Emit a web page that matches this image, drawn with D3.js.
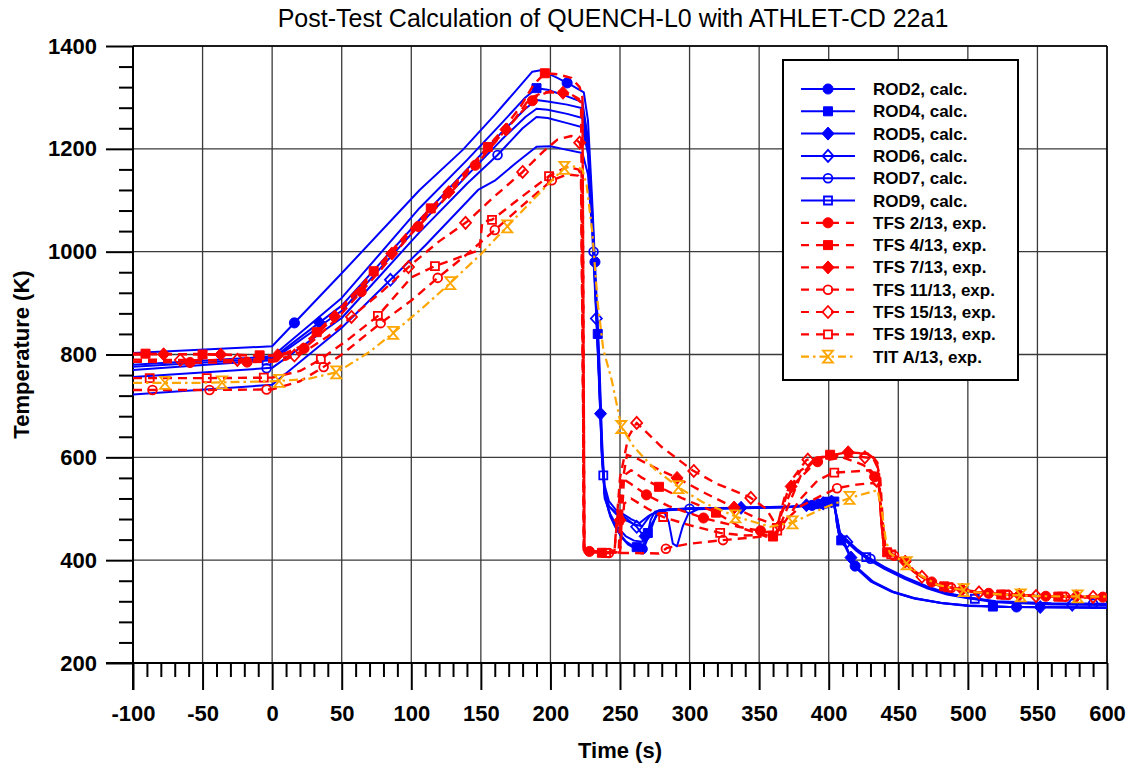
<!DOCTYPE html>
<html><head><meta charset="utf-8">
<script src="https://cdn.jsdelivr.net/npm/d3@7"></script>
<style>
body{margin:0;background:#fff}
svg{display:block}
text{font-family:"Liberation Sans",Arial,Helvetica,sans-serif}
</style>
</head><body>
<svg id="chart" width="1134" height="771"></svg>
<script>
// ---------- data ----------
const chartTitle = "Post-Test Calculation of QUENCH-L0 with ATHLET-CD 22a1";
const xLabel = "Time (s)";
const yLabel = "Temperature (K)";
const xTicks = [-100,-50,0,50,100,150,200,250,300,350,400,450,500,550,600];
const yTicks = [200,400,600,800,1000,1200,1400];
const seriesNames = ["ROD2, calc.","ROD4, calc.","ROD5, calc.","ROD6, calc.","ROD7, calc.","ROD9, calc.",
  "TFS 2/13, exp.","TFS 4/13, exp.","TFS 7/13, exp.","TFS 11/13, exp.","TFS 15/13, exp.","TFS 19/13, exp.","TIT A/13, exp."];

const rod2 = [[-100,803],[0,816],[50,958],[106,1120],[137,1198],[160,1266],[178,1322],[187,1350],[193,1353],[205,1338],[215,1324],[224,1310],[227,1255],[230,1100],[233,920],[235,800],[237,640],[239,530],[242,495],[246,468],[251,445],[256,430],[262,421],[267,422],[271,450],[276,488],[282,498],[300,501],[340,502],[370,503],[390,507],[400,512],[404,514],[406,470],[408,440],[412,426],[416,402],[420,384],[430,359],[445,339],[460,327],[480,317],[500,312],[530,309],[600,308]];
const rod4 = [[-100,780],[0,796],[50,910],[106,1085],[140,1178],[165,1250],[182,1300],[190,1318],[198,1315],[212,1302],[223,1291],[227,1220],[230,1080],[233,900],[235,780],[237,620],[239,525],[243,485],[248,458],[254,437],[260,426],[266,424],[271,460],[277,490],[284,498],[300,500],[340,501],[370,503],[392,508],[404,514],[406,468],[408,442],[412,428],[416,404],[422,380],[432,357],[447,337],[462,325],[482,316],[500,311],[530,309],[600,307]];
const rod5 = [[-100,776],[0,792],[50,895],[106,1062],[140,1160],[165,1232],[182,1278],[190,1295],[198,1292],[212,1286],[223,1279],[227,1210],[230,1070],[233,890],[235,760],[237,610],[239,520],[243,490],[248,465],[254,447],[260,438],[266,436],[271,462],[277,490],[285,499],[300,500],[340,502],[370,503],[392,509],[404,515],[406,470],[408,444],[412,430],[416,405],[422,382],[432,358],[447,338],[462,326],[482,316],[500,312],[530,309],[600,308]];
const rod6 = [[-100,722],[0,741],[50,852],[110,1012],[148,1120],[160,1138],[175,1172],[190,1204],[200,1205],[212,1198],[223,1192],[227,1150],[230,1040],[233,870],[235,740],[237,600],[239,530],[242,505],[246,495],[251,488],[256,478],[262,465],[266,450],[269,441],[272,478],[275,494],[281,498],[285,475],[288,432],[291,427],[295,465],[299,490],[306,499],[340,502],[375,504],[395,510],[403,515],[406,480],[408,450],[412,438],[420,418],[428,402],[440,383],[455,363],[470,346],[485,333],[500,326],[520,318],[560,314],[600,313]];
const rod7 = [[-100,756],[0,774],[50,871],[106,1038],[140,1132],[162,1188],[180,1240],[190,1262],[198,1260],[212,1250],[223,1242],[227,1190],[230,1060],[233,880],[235,750],[237,610],[239,545],[242,515],[247,498],[252,490],[258,480],[264,472],[270,485],[278,497],[300,500],[340,502],[375,505],[395,511],[403,517],[406,484],[408,454],[412,442],[420,422],[428,406],[440,387],[455,367],[470,350],[485,336],[500,328],[520,320],[560,316],[600,315]];
const rod9 = [[-100,770],[0,789],[50,885],[106,1052],[140,1148],[165,1218],[182,1262],[190,1278],[198,1276],[212,1268],[223,1260],[227,1200],[230,1060],[233,880],[235,750],[237,600],[239,530],[242,505],[247,490],[254,478],[260,470],[266,466],[272,488],[280,496],[300,500],[340,502],[375,504],[395,510],[403,516],[406,482],[408,452],[412,440],[420,420],[428,404],[440,385],[455,365],[470,348],[485,335],[500,327],[520,319],[560,315],[600,314]];

const tfs2 = [[-100,786],[-50,784],[0,786],[10,790],[20,805],[30,828],[40,853],[50,880],[75,955],[100,1035],[125,1105],[150,1180],[165,1228],[178,1268],[190,1302],[200,1312],[212,1310],[220,1298],[223,1290],[224,700],[224.5,418],[235,415],[246,416],[248,480],[251,560],[258,548],[269,527],[285,505],[310,482],[335,465],[355,455],[361,456],[366,490],[375,548],[391,591],[410,600],[425,585],[433,562],[436,545],[438,480],[440,418],[446,410],[453,400],[461,378],[468,366],[478,352],[490,345],[505,338],[525,333],[550,330],[600,328]];
const tfs4 = [[-100,802],[-50,800],[0,798],[10,803],[20,815],[30,838],[40,865],[50,893],[75,968],[100,1045],[125,1115],[150,1188],[165,1235],[178,1280],[188,1325],[196,1347],[205,1345],[215,1338],[221,1320],[223,1300],[224,700],[224.5,416],[240,414],[250,416],[253,565],[258,575],[266,560],[277,544],[295,520],[318,494],[338,462],[355,446],[362,446],[367,480],[380,565],[390,595],[401,605],[415,608],[430,607],[435,590],[438,470],[440,418],[446,410],[453,400],[461,378],[468,366],[478,352],[490,345],[505,338],[525,333],[550,330],[600,327]];
const tfs7 = [[-100,800],[-50,801],[0,797],[10,801],[20,812],[30,834],[40,860],[50,888],[75,962],[100,1040],[125,1110],[150,1183],[165,1228],[175,1260],[185,1298],[195,1310],[209,1309],[218,1300],[222,1290],[223.5,700],[224,420],[240,414],[249,415],[251,540],[255,605],[262,598],[275,580],[291,560],[310,532],[330,505],[348,482],[360,470],[364,470],[370,530],[380,575],[395,600],[413,610],[428,607],[434,595],[437,560],[439,470],[441,418],[447,410],[454,400],[462,378],[469,366],[479,352],[491,345],[505,339],[525,334],[550,331],[600,329]];
const tfs11 = [[-100,731],[-50,731],[0,732],[20,748],[36,774],[50,800],[78,861],[100,905],[119,949],[140,995],[160,1042],[180,1090],[201,1139],[212,1150],[220,1148],[222,1140],[223.5,700],[224,420],[240,414],[260,414],[278,413],[284,424],[300,432],[324,439],[345,444],[360,448],[366,470],[380,505],[395,526],[406,540],[420,547],[432,550],[436,540],[438,470],[440,418],[446,410],[453,400],[461,378],[468,366],[478,352],[490,345],[505,338],[525,333],[550,330],[600,327]];
const tfs15 = [[-100,790],[-50,789],[0,790],[20,800],[40,835],[57,873],[80,925],[100,975],[120,1020],[140,1058],[160,1108],[180,1155],[195,1195],[205,1218],[215,1225],[221,1212],[223,1190],[223.8,700],[224.3,420],[240,414],[246,418],[250,560],[256,640],[262,667],[280,620],[302,575],[320,548],[343,523],[355,500],[360,478],[364,476],[368,520],[375,562],[384,595],[400,603],[423,601],[432,598],[436,575],[438,480],[440,418],[446,410],[453,400],[461,378],[468,366],[478,352],[490,345],[505,338],[525,333],[550,330],[600,328]];
const tfs19 = [[-100,754],[-50,754],[0,755],[20,768],[34,789],[55,830],[76,875],[100,950],[117,972],[149,1003],[151,1058],[158,1062],[180,1108],[200,1149],[212,1165],[220,1160],[222,1150],[223.5,700],[224,420],[240,414],[250,415],[253,510],[258,520],[270,500],[281,484],[300,468],[322,453],[340,448],[360,450],[366,465],[380,520],[392,555],[403,570],[420,573],[430,575],[436,560],[438,470],[440,418],[446,410],[453,400],[461,378],[468,366],[478,352],[490,345],[505,338],[525,333],[550,330],[600,327]];
const titA = [[-100,745],[-50,745],[0,748],[25,752],[47,766],[70,805],[87,842],[110,895],[128,939],[150,995],[170,1052],[190,1108],[210,1163],[218,1166],[223,1160],[226,1130],[230,1040],[234,900],[238,810],[244,751],[251,659],[260,620],[275,577],[293,540],[310,512],[334,484],[358,465],[375,474],[395,500],[415,521],[435,536],[438,500],[441,440],[444,413],[456,394],[465,372],[478,352],[490,345],[505,338],[525,333],[550,330],[600,329]];

// marker times (calc) and marker start times (exp, every expMarkStep s)
const rod2Marks = [16,212,232,266,388,398,419,535];
const rod4Marks = [190,234,262,270,394,404,409,518];
const rod5Marks = [34,236,268,337,384,402,416,552];
const rod6Marks = [85,233,262,396,413,575];
const rod7Marks = [-4,162,231,300,392,430,590];
const rod9Marks = [-4,238,400,427,505];
const expMarkStart = [-59,-91,-78,-86,-66,-88,-77];
const expMarkStep = 41;

// ---------- build ----------
const BLUE="#0000ff", RED="#ff0000", ORANGE="#ffa500";
function expTimes(start){const a=[];for(let t=start;t<=600;t+=expMarkStep)a.push(t);return a;}
const series = [
  {data:rod2,color:BLUE,kind:"calc",marker:"circleF",marks:rod2Marks},
  {data:rod4,color:BLUE,kind:"calc",marker:"squareF",marks:rod4Marks},
  {data:rod5,color:BLUE,kind:"calc",marker:"diamondF",marks:rod5Marks},
  {data:rod6,color:BLUE,kind:"calc",marker:"diamondO",marks:rod6Marks},
  {data:rod7,color:BLUE,kind:"calc",marker:"circleO",marks:rod7Marks},
  {data:rod9,color:BLUE,kind:"calc",marker:"squareO",marks:rod9Marks},
  {data:tfs2,color:RED,kind:"exp",marker:"circleF",marks:expTimes(expMarkStart[0])},
  {data:tfs4,color:RED,kind:"exp",marker:"squareF",marks:expTimes(expMarkStart[1])},
  {data:tfs7,color:RED,kind:"exp",marker:"diamondF",marks:expTimes(expMarkStart[2])},
  {data:tfs11,color:RED,kind:"exp",marker:"circleO",marks:expTimes(expMarkStart[3])},
  {data:tfs15,color:RED,kind:"exp",marker:"diamondO",marks:expTimes(expMarkStart[4])},
  {data:tfs19,color:RED,kind:"exp",marker:"squareO",marks:expTimes(expMarkStart[5])},
  {data:titA,color:ORANGE,kind:"tit",marker:"hourglass",marks:expTimes(expMarkStart[6])}
].map((s,i)=>Object.assign(s,{name:seriesNames[i]}));

const svg = d3.select("#chart");
const L=133,R=1107,T=46,B=663;
const x = d3.scaleLinear().domain([-100,600]).range([L,R]);
const y = d3.scaleLinear().domain([200,1400]).range([B,T]);

svg.append("defs").append("clipPath").attr("id","clip")
  .append("rect").attr("x",L).attr("y",T).attr("width",R-L).attr("height",B-T);

// grid
const grid = svg.append("g");
grid.selectAll("line.vx").data(xTicks.filter(v=>v>-100)).join("line")
  .attr("x1",d=>x(d)).attr("x2",d=>x(d)).attr("y1",T).attr("y2",B)
  .attr("stroke","#3a3a3a").attr("stroke-width",1.3);
grid.selectAll("line.hy").data(yTicks.filter(v=>v>200)).join("line")
  .attr("x1",L).attr("x2",R).attr("y1",d=>y(d)).attr("y2",d=>y(d))
  .attr("stroke","#3a3a3a").attr("stroke-width",1.3);

// axes
const minorX = d3.range(-100,601,10).filter(v=>v%50!==0);
const minorY = d3.range(200,1401,40).filter(v=>v%200!==0);
function styleAxis(g){g.select(".domain").remove();g.selectAll("line").attr("stroke","#000").attr("stroke-width",2);}
svg.append("g").attr("transform",`translate(0,${B})`)
  .call(d3.axisBottom(x).tickValues(minorX).tickSize(14).tickFormat("")).call(styleAxis);
const gx = svg.append("g").attr("transform",`translate(0,${B})`)
  .call(d3.axisBottom(x).tickValues(xTicks).tickSize(27).tickPadding(15).tickFormat(d3.format("d"))).call(styleAxis);
svg.append("g").attr("transform",`translate(${L},0)`)
  .call(d3.axisLeft(y).tickValues(minorY).tickSize(14).tickFormat("")).call(styleAxis);
const gy = svg.append("g").attr("transform",`translate(${L},0)`)
  .call(d3.axisLeft(y).tickValues(yTicks).tickSize(27).tickPadding(9).tickFormat(d3.format("d"))).call(styleAxis);
[gx,gy].forEach(g=>g.selectAll("text").attr("fill","#000").attr("font-size",22).attr("font-weight","bold")
  .attr("font-family",'"Liberation Sans",Arial,sans-serif'));
gx.selectAll("text").text(d=>d<0?"-"+Math.abs(d):d);
// axis lines & frame
svg.append("line").attr("x1",L).attr("x2",L).attr("y1",T).attr("y2",B+27).attr("stroke","#000").attr("stroke-width",2);
svg.append("line").attr("x1",L-27).attr("x2",R).attr("y1",B).attr("y2",B).attr("stroke","#000").attr("stroke-width",2);
svg.append("line").attr("x1",L).attr("x2",R).attr("y1",T).attr("y2",T).attr("stroke","#000").attr("stroke-width",1.5);
svg.append("line").attr("x1",R).attr("x2",R).attr("y1",T).attr("y2",B).attr("stroke","#000").attr("stroke-width",1.5);

// titles
svg.append("text").attr("x",613).attr("y",27).attr("text-anchor","middle").attr("font-size",25).text(chartTitle);
svg.append("text").attr("x",(L+R)/2).attr("y",758).attr("text-anchor","middle").attr("font-size",22).attr("font-weight","bold").text(xLabel);
svg.append("text").attr("transform",`translate(29,${(T+B)/2}) rotate(-90)`).attr("text-anchor","middle").attr("font-size",22).attr("font-weight","bold").text(yLabel);

// markers
function markerPath(type){
  switch(type){
    case "circleF": return d3.symbol(d3.symbolCircle, 80)();
    case "circleO": return d3.symbol(d3.symbolCircle, 60)();
    case "squareF": return "M-4.5,-4.5H4.5V4.5H-4.5Z";
    case "squareO": return "M-4,-4H4V4H-4Z";
    case "diamondF": return "M0,-6.5L6,0L0,6.5L-6,0Z";
    case "diamondO": return "M0,-6L5.5,0L0,6L-5.5,0Z";
    case "hourglass": return "M-5,-6H5L-5,6H5Z";
  }
}
function markerStyle(sel,type,color){
  const filled = type.endsWith("F");
  sel.attr("d",markerPath(type))
    .attr("fill",filled?color:"none")
    .attr("stroke",color).attr("stroke-width",filled?1:1.8);
}
function interp(data,t){
  if(t<=data[0][0]) return data[0][1];
  for(let i=0;i<data.length-1;i++){
    const a=data[i],b=data[i+1];
    if(t>=a[0]&&t<=b[0]){const f=(t-a[0])/(b[0]-a[0]||1);return a[1]+f*(b[1]-a[1]);}
  }
  return data[data.length-1][1];
}
const dashOf = s => s.kind==="calc"?null:(s.kind==="exp"?"9,6":"9,4,2.5,4");
const widthOf = s => s.kind==="calc"?2:(s.kind==="exp"?2.4:2.2);

const line = d3.line().x(d=>x(d[0])).y(d=>y(d[1]));
const plot = svg.append("g").attr("clip-path","url(#clip)");
series.forEach(s=>{
  const g=plot.append("g");
  g.append("path").datum(s.data).attr("d",line).attr("fill","none")
    .attr("stroke",s.color).attr("stroke-width",widthOf(s))
    .attr("stroke-dasharray",dashOf(s)).attr("stroke-linejoin","round");
  g.selectAll("path.m").data(s.marks.filter(t=>t>=-100&&t<=600)).join("path").attr("class","m")
    .attr("transform",t=>`translate(${x(t)},${y(interp(s.data,t))})`)
    .call(sel=>markerStyle(sel,s.marker,s.color));
});

// legend
const lg = svg.append("g");
lg.append("rect").attr("x",783).attr("y",60).attr("width",235).attr("height",320)
  .attr("fill","#fff").attr("stroke","#000").attr("stroke-width",2);
series.forEach((s,i)=>{
  const cy = 89 + i*22.3;
  lg.append("line").attr("x1",801).attr("x2",855).attr("y1",cy).attr("y2",cy)
    .attr("stroke",s.color).attr("stroke-width",s.kind==="calc"?2:2.2)
    .attr("stroke-dasharray",s.kind==="calc"?null:(s.kind==="exp"?"8,7":"8,4,2.5,4"));
  lg.append("path").attr("transform",`translate(828,${cy})`).call(sel=>markerStyle(sel,s.marker,s.color));
  lg.append("text").attr("x",873).attr("y",cy+6).attr("font-size",17).attr("font-weight","bold").text(s.name);
});
</script>
</body></html>
